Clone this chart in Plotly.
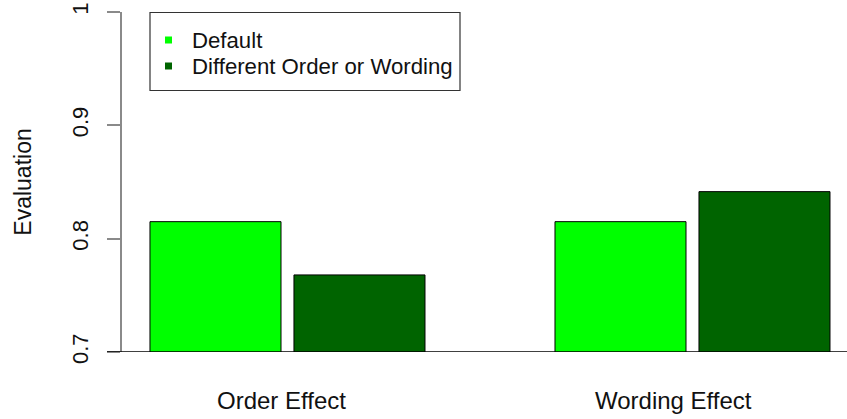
import plotly.graph_objects as go

categories = ["Order Effect", "Wording Effect"]
default_vals = [0.815, 0.815]
different_vals = [0.768, 0.8415]
series_names = ["Default", "Different Order or Wording"]
series_colors = ["#00FF00", "#006400"]
y_ticks = [0.7, 0.8, 0.9, 1.0]
y_tick_labels = ["0.7", "0.8", "0.9", "1"]

FONT = "Liberation Sans, Arial, Helvetica, sans-serif"

# page body margin removed via post_script, so no offset
OX, OY = 0, 0
L, T, PW, PH = 122 - OX, 12 - OY, 725, 340
W, H = 847, 419
label_shifts = [-6, -19]


def px(xw):
    return (xw - OX - L) / PW


def py(yw):
    return 1 - (yw - OY - T) / PH


fig = go.Figure()
for name, vals, col in zip(series_names, [default_vals, different_vals], series_colors):
    fig.add_trace(go.Bar(
        x=categories, y=vals, name=name,
        marker=dict(color=col, line=dict(color="#000000", width=1)),
        showlegend=False,
    ))

fig.update_layout(
    width=W, height=H,
    margin=dict(l=L, r=W - L - PW, t=T, b=H - T - PH, autoexpand=False),
    paper_bgcolor="white", plot_bgcolor="white",
    barmode="group", bargap=0.289, bargroupgap=0.09,
    font=dict(family=FONT, color="#111111", size=22),
    xaxis=dict(
        range=[-0.4086, 1.3815], showline=False, showgrid=False, zeroline=False,
        ticks="", showticklabels=False, automargin=False,
    ),
    yaxis=dict(
        range=[0.7, 1.0], tickvals=y_ticks, ticktext=y_tick_labels,
        showline=True, linecolor="#8a8a8a", linewidth=2,
        ticks="outside", ticklen=13, tickcolor="#8a8a8a", tickwidth=2,
        tickangle=-90, tickfont=dict(size=22), ticklabelstandoff=10,
        ticklabeloverflow="allow", automargin=False,
        showgrid=False, zeroline=False,
        title=dict(text="Evaluation", font=dict(size=23), standoff=30),
    ),
)

# category labels (R-style placement)
for cat, sh in zip(categories, label_shifts):
    fig.add_annotation(xref="x", yref="paper", x=cat, y=py(400.5), xshift=sh,
                       xanchor="center", yanchor="middle", showarrow=False,
                       text=cat, font=dict(size=24, family=FONT, color="#111111"))

# baseline at 0.7
fig.add_shape(type="line", xref="paper", yref="y", x0=px(107), x1=1.0, y0=0.7, y1=0.7,
              line=dict(color="#000000", width=1.5), layer="above")

# legend box (manual, R-style)
fig.add_shape(type="rect", xref="paper", yref="paper",
              x0=px(150), x1=px(460), y0=py(90.5), y1=py(12.5),
              line=dict(color="#333333", width=1.2), fillcolor="white", layer="above")
for i, (name, col) in enumerate(zip(series_names, series_colors)):
    ypix = 40 + 26 * i
    fig.add_shape(type="rect", xref="paper", yref="paper",
                  x0=px(165), x1=px(172), y0=py(ypix + 3.5), y1=py(ypix - 3.5),
                  line=dict(width=0), fillcolor=col, layer="above")
    fig.add_annotation(xref="paper", yref="paper", x=px(190), y=py(ypix),
                       xanchor="left", yanchor="middle", showarrow=False,
                       text=name, font=dict(size=22.2, family=FONT, color="#111111"))

fig.write_html("out.html", config={"displayModeBar": False},
               post_script="document.body.style.margin='0';")
